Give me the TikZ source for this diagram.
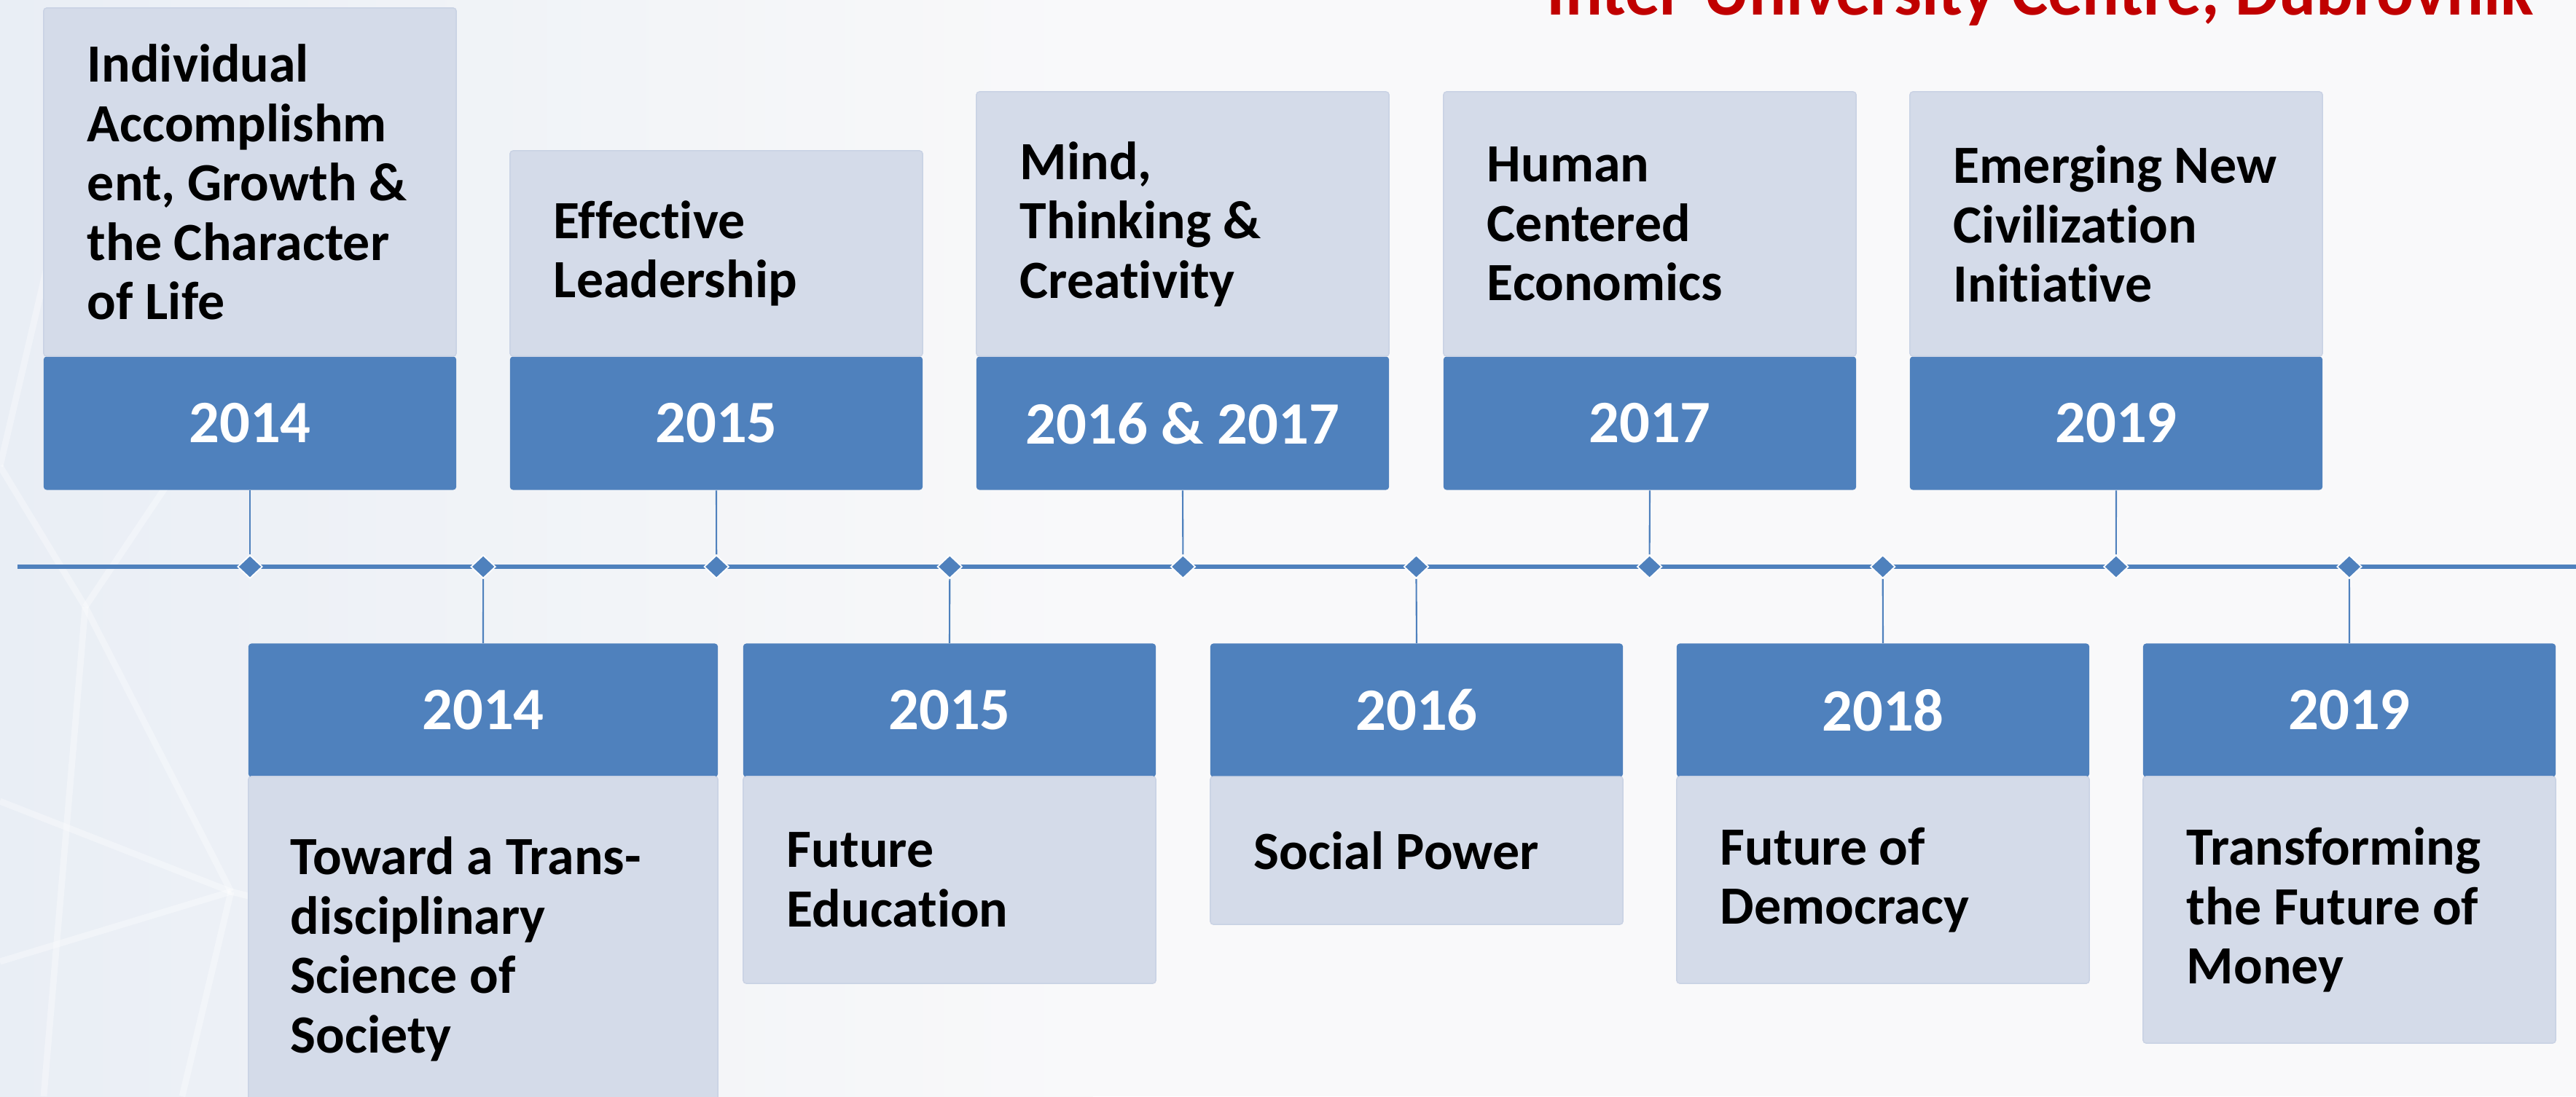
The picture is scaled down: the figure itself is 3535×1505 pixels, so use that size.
\documentclass[tikz,border=0pt]{standalone}
\usepackage{fontspec}
\setmainfont{Carlito}[Ligatures={NoCommon}]
\usetikzlibrary{shapes.geometric}
\definecolor{tlblue}{HTML}{4F81BD}
\definecolor{tllight}{HTML}{D4DBE9}
\definecolor{tlborder}{HTML}{C9D2E4}
\definecolor{bgL}{HTML}{E9EEF5}
\definecolor{bgR}{HTML}{F9F9FA}
\definecolor{titlered}{HTML}{C00000}
\begin{document}
\begin{tikzpicture}[x=0.01cm,y=-0.01cm,
  hdrbox/.style={fill=tlblue, draw=none, rounded corners=1.2pt, minimum width=#1, minimum height=1.83cm, inner sep=0pt, text=white, font=\fontsize{23.5pt}{28pt}\selectfont\bfseries},
  bodybox/.style 2 args={fill=tllight, draw=tlborder, line width=0.4pt, rounded corners=1.2pt, minimum width=#1, minimum height=#2, inner sep=0pt},
  boxtext/.style={anchor=west, inner sep=0pt, align=left, text=black, font=\fontsize{21pt}{23.2pt}\selectfont\bfseries},
  tmark/.style={diamond, fill=tlblue, draw=white, line width=0.5pt, minimum width=0.34cm, minimum height=0.32cm, inner sep=0pt},
  conn/.style={draw=tlblue, line width=0.6pt},
  tline/.style={draw=tlblue, line width=1.6pt},
  netline/.style={draw=white, line width=2.5pt, opacity=0.35}
]
\useasboundingbox (0,0) rectangle (3535,1505);
\clip (0,0) rectangle (3535,1505);
% background
\fill[bgR] (0,0) rectangle (3535,1505);
\shade[left color=bgL, right color=bgR] (0,0) rectangle (1500,1505);
\draw[netline] (117,833) -- (317,1224);
\draw[netline] (117,833) -- (0,640);
\draw[netline] (117,833) -- (300,560);
\draw[netline] (117,833) -- (60,1505);
\draw[netline] (317,1224) -- (0,1320);
\draw[netline] (317,1224) -- (420,1250);
\draw[netline] (317,1224) -- (250,1505);
\draw[netline] (300,560) -- (80,300);
\draw[netline] (80,300) -- (200,60);
\draw[netline] (0,640) -- (80,300);
\draw[netline] (0,1100) -- (317,1224);
% title
\node[anchor=base east, inner sep=0pt, text=titlered, font=\fontsize{27pt}{30pt}\selectfont\bfseries] (title) at (3478,20) {Inter-University Centre, Dubrovnik};
% timeline
\coordinate (tlS) at (24,778);
\coordinate (tlE) at (3535,778);
\draw[tline] (tlS) -- (tlE);
\foreach \k in {0,...,9} {
  \node[tmark] (d\k) at ({343+\k*320.1},778) {};
}
% top boxes
\node[hdrbox=5.66cm] (h1) at (343,581) {2014};
\node[bodybox={5.66cm}{4.78cm}] (b1) at (343,250) {};
\node[boxtext] (t1) at ([xshift=0.6cm]b1.west) {Individual\\Accomplishm\\ent, Growth \&\\the Character\\of Life};

\node[hdrbox=5.66cm] (h2) at (983,581) {2015};
\node[bodybox={5.66cm}{2.82cm}] (b2) at (983,348) {};
\node[boxtext] (t2) at ([xshift=0.6cm]b2.west) {Effective\\Leadership};

\node[hdrbox=5.66cm] (h3) at (1623,581) {2016 \& 2017};
\node[bodybox={5.66cm}{3.63cm}] (b3) at (1623,307.5) {};
\node[boxtext] (t3) at ([xshift=0.6cm]b3.west) {Mind,\\Thinking \&\\Creativity};

\node[hdrbox=5.66cm] (h4) at (2264,581) {2017};
\node[bodybox={5.66cm}{3.63cm}] (b4) at (2264,307.5) {};
\node[boxtext] (t4) at ([xshift=0.6cm]b4.west) {Human\\Centered\\Economics};

\node[hdrbox=5.66cm] (h5) at (2904,581) {2019};
\node[bodybox={5.66cm}{3.63cm}] (b5) at (2904,307.5) {};
\node[boxtext] (t5) at ([xshift=0.6cm]b5.west) {Emerging New\\Civilization\\Initiative};

% bottom boxes
\node[hdrbox=6.44cm] (h6) at (663,975) {2014};
\node[bodybox={6.44cm}{4.74cm}] (b6) at (663,1303) {};
\node[boxtext] (t6) at ([xshift=0.58cm]b6.west) {Toward a Trans-\\disciplinary\\Science of\\Society};

\node[hdrbox=5.66cm] (h7) at (1303,975) {2015};
\node[bodybox={5.66cm}{2.84cm}] (b7) at (1303,1208) {};
\node[boxtext] (t7) at ([xshift=0.6cm]b7.west) {Future\\Education};

\node[hdrbox=5.66cm] (h8) at (1944,975) {2016};
\node[bodybox={5.66cm}{2.03cm}] (b8) at (1944,1167.5) {};
\node[boxtext] (t8) at ([xshift=0.6cm]b8.west) {Social Power};

\node[hdrbox=5.66cm] (h9) at (2584,975) {2018};
\node[bodybox={5.66cm}{2.84cm}] (b9) at (2584,1208) {};
\node[boxtext] (t9) at ([xshift=0.6cm]b9.west) {Future of\\Democracy};

\node[hdrbox=5.66cm] (h10) at (3224,975) {2019};
\node[bodybox={5.66cm}{3.66cm}] (b10) at (3224,1249) {};
\node[boxtext] (t10) at ([xshift=0.6cm]b10.west) {Transforming\\the Future of\\Money};

% connectors
\draw[conn] (h1.south) -- (d0.north);
\draw[conn] (h2.south) -- (d2.north);
\draw[conn] (h3.south) -- (d4.north);
\draw[conn] (h4.south) -- (d6.north);
\draw[conn] (h5.south) -- (d8.north);
\draw[conn] (d1.south) -- (h6.north);
\draw[conn] (d3.south) -- (h7.north);
\draw[conn] (d5.south) -- (h8.north);
\draw[conn] (d7.south) -- (h9.north);
\draw[conn] (d9.south) -- (h10.north);
\end{tikzpicture}
\end{document}
